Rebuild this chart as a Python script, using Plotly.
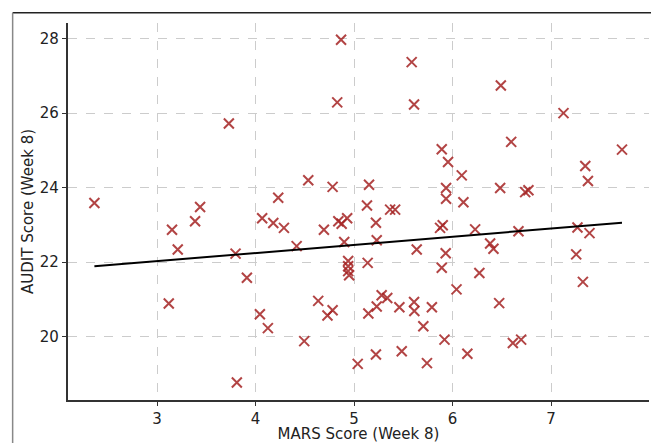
import numpy as np
import plotly.graph_objects as go

mars = [2.364, 3.729, 3.437, 3.152, 3.386, 3.21, 3.797, 3.912, 3.119, 3.81,
        4.044, 4.125, 4.067, 4.18, 4.23, 4.288, 4.417, 4.535, 4.494, 4.636,
        4.694, 4.73, 4.782, 4.782, 4.829, 4.868, 4.84, 4.874, 4.93, 4.90,
        4.94, 4.94, 4.94, 4.95, 5.037, 5.131, 5.152, 5.138, 5.145, 5.222,
        5.23, 5.23, 5.222, 5.28, 5.337, 5.366, 5.417, 5.46, 5.484, 5.585,
        5.609, 5.609, 5.612, 5.636, 5.703, 5.74, 5.79, 5.873, 5.90, 5.89,
        5.89, 5.918, 5.93, 5.934, 5.934, 5.954, 6.04, 6.093, 6.11, 6.15,
        6.229, 6.272, 6.381, 6.415, 6.473, 6.483, 6.49, 6.595, 6.612, 6.669,
        6.696, 6.737, 6.77, 7.126, 7.255, 7.268, 7.323, 7.347, 7.374, 7.39,
        7.72]
audit = [23.59, 25.72, 23.48, 22.87, 23.10, 22.34, 22.23, 21.58, 20.89, 18.77,
         20.60, 20.23, 23.18, 23.05, 23.73, 22.92, 22.43, 24.20, 19.88, 20.96,
         22.87, 20.57, 20.71, 24.02, 26.29, 27.97, 23.10, 23.03, 23.18, 22.54,
         22.03, 21.89, 21.76, 21.65, 19.27, 23.52, 24.08, 21.98, 20.62, 23.06,
         22.59, 20.81, 19.52, 21.11, 21.04, 23.41, 23.41, 20.79, 19.61, 27.37,
         26.23, 20.93, 20.69, 22.34, 20.28, 19.29, 20.79, 22.92, 22.99, 25.03,
         21.85, 19.92, 22.24, 23.99, 23.70, 24.69, 21.27, 24.33, 23.61, 19.54,
         22.88, 21.71, 22.50, 22.36, 20.90, 23.99, 26.74, 25.23, 19.83, 22.83,
         19.92, 23.88, 23.93, 26.00, 22.21, 22.93, 21.47, 24.58, 24.18, 22.78,
         25.02]

x_ticks = [3, 4, 5, 6, 7]
y_ticks = [20, 22, 24, 26, 28]

slope, intercept = np.polyfit(mars, audit, 1)
fit_x = np.array([min(mars), max(mars)])
fit_y = slope * fit_x + intercept

fig = go.Figure()
fig.add_trace(go.Scatter(
    x=mars, y=audit, mode="markers",
    marker=dict(symbol="x-thin", size=10,
                line=dict(color="rgba(165,35,35,0.85)", width=2)),
    showlegend=False,
))
fig.add_trace(go.Scatter(
    x=fit_x, y=fit_y, mode="lines",
    line=dict(color="black", width=2), showlegend=False,
))

# page body has an 8px margin: work in figure pixels = screen pixels - 8
OFF = 8
FW, FH = 659 - OFF, 443 - OFF
L, T, R, B = 68.3 - OFF, 22.7 - OFF, 648.7 - OFF, 399.7 - OFF
W, H = R - L, B - T
def px(x): return (x - OFF - L) / W
def py(y): return (B - (y - OFF)) / H

# figure frame (from the screenshot)
fig.add_shape(type="line", xref="paper", yref="paper",
              x0=px(13), x1=px(657.5), y0=py(12.5), y1=py(12.5),
              line=dict(color="#222", width=1.5))
fig.add_shape(type="line", xref="paper", yref="paper",
              x0=px(13), x1=px(13), y0=py(12.5), y1=py(443),
              line=dict(color="#888", width=1.5))
fig.add_shape(type="line", xref="paper", yref="paper",
              x0=px(657.5), x1=px(657.5), y0=py(12.5), y1=py(443),
              line=dict(color="#888", width=1.5))

font = dict(family="DejaVu Sans", size=15, color="#222")
axis_common = dict(
    showline=True, linecolor="#333", linewidth=1.5,
    ticks="outside", ticklen=4.5, tickwidth=1.2, tickcolor="#333",
    showgrid=True, gridcolor="#cccccc", griddash="dash", gridwidth=1,
    zeroline=False, tickfont=font, mirror=False, automargin=False,
)
fig.update_xaxes(range=[2.096, 7.994], tickvals=x_ticks,
                 title=dict(text="MARS Score (Week 8)", standoff=3, font=font),
                 **axis_common)
fig.update_yaxes(range=[18.30, 28.42], tickvals=y_ticks,
                 title=dict(text="AUDIT Score (Week 8)", standoff=2, font=font),
                 **axis_common)

fig.update_layout(
    width=FW, height=FH,
    margin=dict(l=L, r=FW - R, t=T, b=FH - B),
    plot_bgcolor="white", paper_bgcolor="white",
)

fig.write_html("out.html")
